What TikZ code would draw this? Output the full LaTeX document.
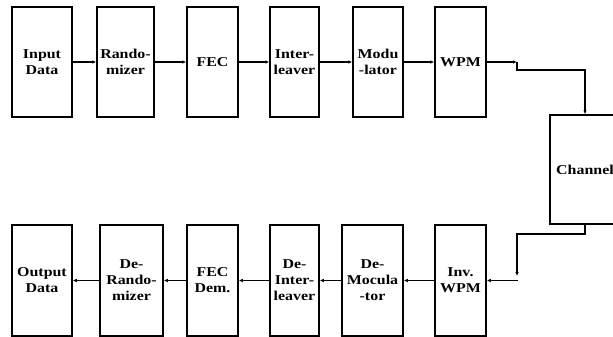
\documentclass[tikz,border=0pt]{standalone}
\usepackage{fontspec}
\setmainfont{Liberation Serif}[FakeStretch=1.18]
\usetikzlibrary{arrows.meta}
\tikzset{
  blk/.style={draw, line width=1.5pt, inner sep=0pt, align=center,
    font=\fontsize{13.5}{16}\selectfont\bfseries, minimum height=110pt},
  arr/.style={line width=1.1pt, -{Latex[length=4pt,width=3.5pt]}},
  ln/.style={line width=1.1pt}
}
\begin{document}
\begin{tikzpicture}[x=1pt,y=-1pt]
\useasboundingbox (0,0) rectangle (613,337);
\clip (0,0) rectangle (613,337);
% top row
\node[blk, minimum width=60pt] (in)   at (42,62)    {Input\\Data};
\node[blk, minimum width=57pt] (rnd)  at (125.5,62) {Rando-\\mizer};
\node[blk, minimum width=51pt] (fec)  at (212.5,62) {FEC};
\node[blk, minimum width=49pt] (int)  at (294.5,62) {Inter-\\leaver};
\node[blk, minimum width=50pt] (mod)  at (378,62)   {Modu\\-lator};
\node[blk, minimum width=51pt] (wpm)  at (460.5,62) {WPM};
% channel
\node[blk, minimum width=70pt, minimum height=109pt] (ch) at (585,169.5) {Channel};
% bottom row
\node[blk, minimum width=60pt, minimum height=111pt] (out)  at (42,280.5)    {Output\\Data};
\node[blk, minimum width=63pt, minimum height=111pt] (drnd) at (131.5,280.5) {De-\\Rando-\\mizer};
\node[blk, minimum width=51pt, minimum height=111pt] (fecd) at (212.5,280.5) {FEC\\Dem.};
\node[blk, minimum width=49pt, minimum height=111pt] (dint) at (294.5,280.5) {De-\\Inter-\\leaver};
\node[blk, minimum width=61pt, minimum height=111pt] (dmod) at (372.5,280.5) {De-\\Mocula\\-tor};
\node[blk, minimum width=51pt, minimum height=111pt] (iwpm) at (460.5,280.5) {Inv.\\WPM};
% top connectors
\draw[arr] (in.east) -- (rnd.west);
\draw[arr] (rnd.east) -- (fec.west);
\draw[arr] (fec.east) -- (int.west);
\draw[arr] (int.east) -- (mod.west);
\draw[arr] (mod.east) -- (wpm.west);
\coordinate (a1) at (517,62);
\coordinate (a2) at (517,70);
\draw[arr] (wpm.east) -- (a1);
\draw[arr] (a1) -- (a2) -| (ch.north);
% bottom connectors
\coordinate (b1) at (517,234);
\coordinate (b2) at (517,276);
\coordinate (b3) at (518,280.5);
\draw[arr] (ch.south) |- (b1) -- (b2);
\draw[arr] (b3) -- (iwpm.east);
\draw[arr] (iwpm.west) -- (dmod.east);
\draw[arr] (dmod.west) -- (dint.east);
\draw[arr] (dint.west) -- (fecd.east);
\draw[arr] (fecd.west) -- (drnd.east);
\draw[arr] (drnd.west) -- (out.east);
\end{tikzpicture}
\end{document}
